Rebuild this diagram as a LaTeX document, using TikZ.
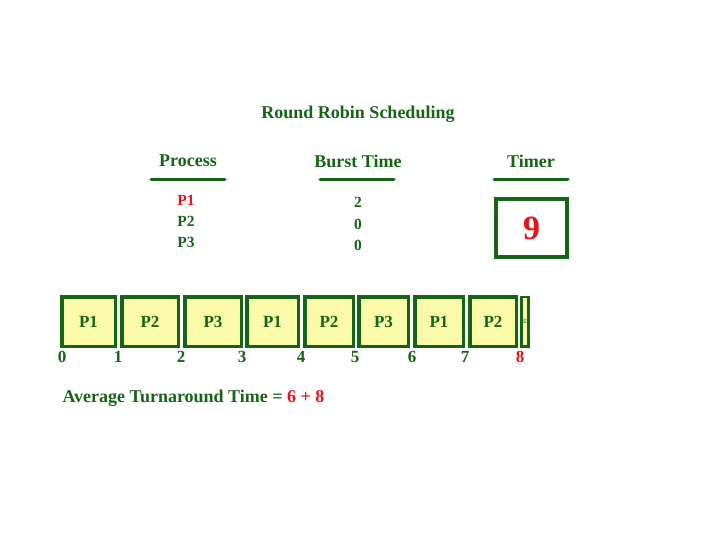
\documentclass[tikz,border=0pt]{standalone}
\usepackage{fontspec}
\setmainfont{Liberation Serif}
\definecolor{rrgreen}{RGB}{22,100,22}
\definecolor{rrred}{RGB}{228,20,24}
\definecolor{rryellow}{RGB}{250,250,168}
\tikzset{
  head/.style={text=rrgreen, font=\fontsize{18}{21}\selectfont\bfseries},
  item/.style={text=rrgreen, font=\fontsize{15.5}{18}\selectfont\bfseries},
  slot/.style={draw=rrgreen, fill=rryellow, line width=3.5pt, text=rrgreen,
    font=\fontsize{17}{19}\selectfont\bfseries, inner sep=0pt, minimum height=49.5pt},
  tick/.style={text=rrgreen, font=\fontsize{17}{19}\selectfont\bfseries, inner sep=0pt},
  rule/.style={rrgreen, line width=3pt, line cap=round}
}
\begin{document}
\begin{tikzpicture}[x=1pt,y=-1pt]
  \useasboundingbox[fill=white] (0,0) rectangle (720,540);
  \node[head] (title) at (358,114) {Round Robin Scheduling};
  % table heads
  \node[head] (proc) at (188,161) {Process};
  \node[head] (burst) at (358,161) {Burst Time};
  \node[head] (tmr) at (531,161) {Timer};
  \coordinate (pl) at (151,180); \coordinate (pr) at (225,180);
  \coordinate (bl) at (320,180); \coordinate (br) at (394,180);
  \coordinate (tl) at (494,180); \coordinate (tr) at (568,180);
  \draw[rule] (pl) -- (pr);
  \draw[rule] (bl) -- (br);
  \draw[rule] (tl) -- (tr);
  % processes and burst times
  \node[item, text=rrred] (p1) at (186,200) {P1};
  \node[item] (p2) at (186,221) {P2};
  \node[item] (p3) at (186,242) {P3};
  \node[item] (b1) at (358,202) {2};
  \node[item] (b2) at (358,224) {0};
  \node[item] (b3) at (358,245) {0};
  \node[draw=rrgreen, line width=4pt, minimum width=71pt, minimum height=58pt,
    text=rrred, font=\fontsize{34}{36}\selectfont\bfseries, inner sep=0pt] (timer) at (531.5,228) {9};
  % gantt chart
  \foreach \n/\l/\a/\b in {1/P1/60/117, 2/P2/120/180, 3/P3/183/243, 4/P1/245/300,
      5/P2/303/355, 6/P3/357/410, 7/P1/413/465, 8/P2/468/518}
    \node[slot, minimum width=\b-\a-3.5] (s\n) at ({(\a+\b)/2},321.5) {\l};
  \node[slot, minimum width=7pt, line width=2.5pt] (s9) at (525,321.5)
    {\rotatebox{90}{\fontsize{4}{4}\selectfont P3}};
  \foreach \t/\x in {0/62, 1/118, 2/181, 3/242, 4/301, 5/355, 6/412, 7/465}
    \node[tick] (t\t) at (\x,357) {\t};
  \node[tick, text=rrred] (t8) at (520,357) {8};
  \node[anchor=west, text=rrgreen, font=\fontsize{18}{21}\selectfont\bfseries] (avg) at (59,398)
    {Average Turnaround Time = \textcolor{rrred}{6 + 8}};
\end{tikzpicture}
\end{document}
